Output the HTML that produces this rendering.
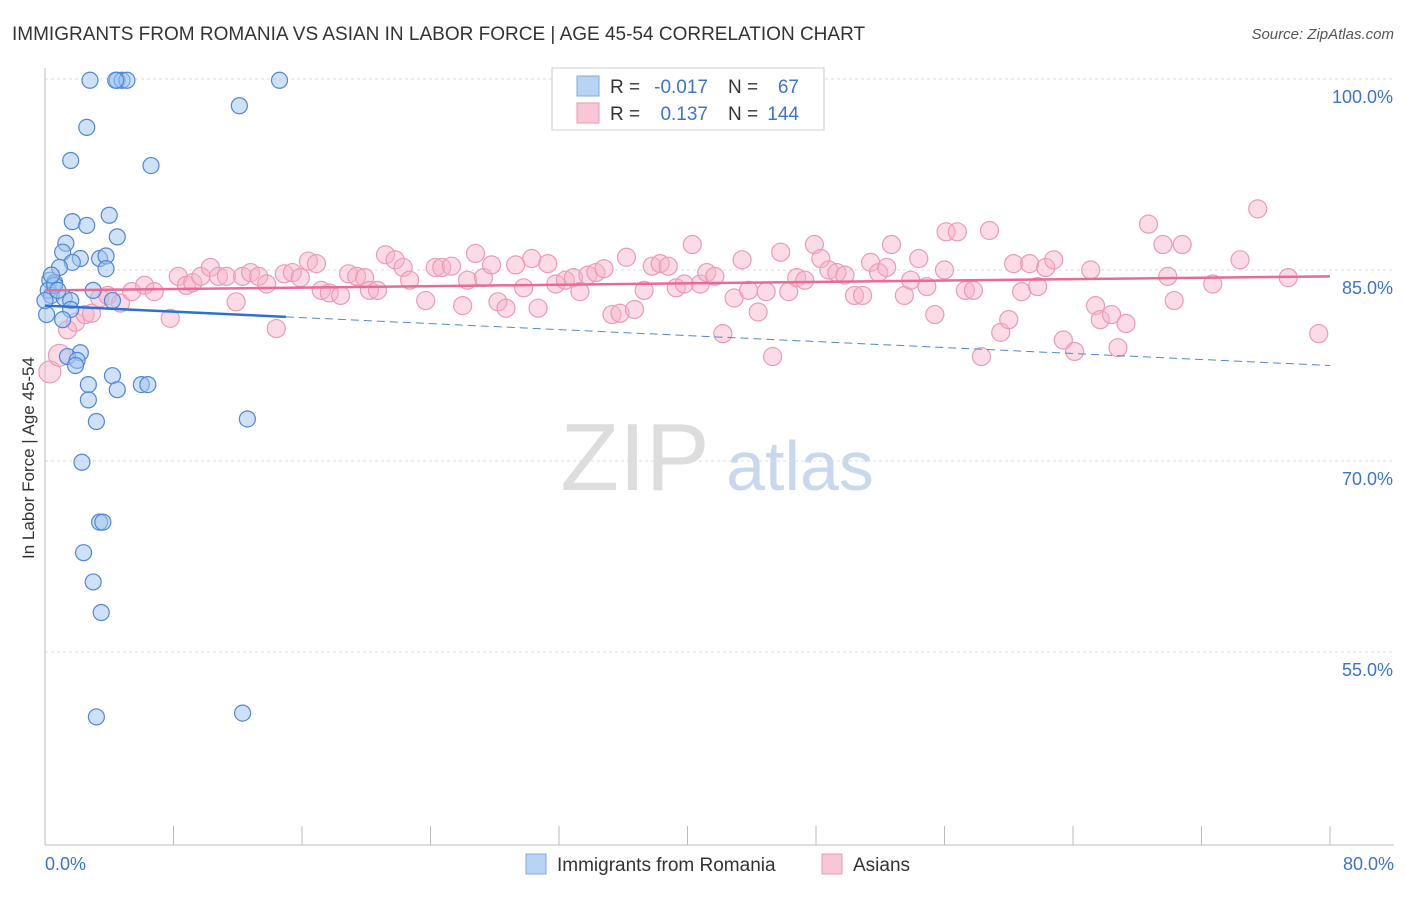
<!DOCTYPE html>
<html><head><meta charset="utf-8"><style>
body{margin:0;background:#fff;font-family:"Liberation Sans",sans-serif}
svg text{font-family:"Liberation Sans",sans-serif}
</style></head><body>
<svg id="chart" width="1406" height="892" xmlns="http://www.w3.org/2000/svg">
<text x="12" y="40" font-size="19" fill="#333">IMMIGRANTS FROM ROMANIA VS ASIAN IN LABOR FORCE | AGE 45-54 CORRELATION CHART</text>
<text x="1394" y="39" font-size="15" fill="#555" font-style="italic" text-anchor="end">Source: ZipAtlas.com</text>
<text transform="translate(34,458) rotate(-90)" font-size="17" fill="#333" text-anchor="middle">In Labor Force | Age 45-54</text>
<g><text x="635" y="490" font-size="96" fill="#ddd" font-family="Liberation Serif" text-anchor="middle">ZIP</text><text x="800" y="490" font-size="70" fill="#c8d8ef" text-anchor="middle">atlas</text></g>
<g id="grid"></g><g id="axes"></g><g id="pts"></g><g id="lines"></g>
<g>
<rect x="552" y="68" width="272" height="62" fill="#fff" stroke="#ccc"/>
<rect x="577" y="76" width="22" height="20" fill="#b9d3f5" stroke="#7fa8e0"/>
<rect x="577" y="103" width="22" height="20" fill="#f9c6d5" stroke="#ec9ab5"/>
<text x="610" y="93" font-size="19" fill="#333">R =</text>
<text x="708" y="93" font-size="19" fill="#3a73d4" text-anchor="end">-0.017</text>
<text x="728" y="93" font-size="19" fill="#333">N =</text>
<text x="799" y="93" font-size="19" fill="#3a73d4" text-anchor="end">67</text>
<text x="610" y="120" font-size="19" fill="#333">R =</text>
<text x="708" y="120" font-size="19" fill="#3a73d4" text-anchor="end">0.137</text>
<text x="728" y="120" font-size="19" fill="#333">N =</text>
<text x="799" y="120" font-size="19" fill="#3a73d4" text-anchor="end">144</text>
</g>
<g>
<rect x="526" y="854" width="20" height="20" fill="#b9d3f5" stroke="#7fa8e0"/>
<text x="557" y="871" font-size="19" fill="#333">Immigrants from Romania</text>
<rect x="822" y="854" width="20" height="20" fill="#f9c6d5" stroke="#ec9ab5"/>
<text x="853" y="871" font-size="19" fill="#333">Asians</text>
</g>
</svg>
<script>
const yTicks=[100,85,70,55];
const yTickLabels=["100.0%","85.0%","70.0%","55.0%"];
const xTicks=[0,8,16,24,32,40,48,56,64,72,80];
const blueX=[2.8,4.5,4.8,5.1,4.4,14.6,12.1,2.6,1.6,6.6,1.7,2.6,4.0,4.5,1.3,1.1,2.2,3.4,3.8,1.7,3.8,0.9,0.3,0.6,0.2,0.4,1.2,1.6,3.0,4.2,1.6,1.1,0.1,2.2,1.4,2.0,1.9,4.2,2.7,4.5,6.0,6.4,2.7,3.2,12.6,2.3,3.4,3.6,2.4,3.0,3.5,3.2,12.3,0.6,0.8,0,0.4];
const blueY=[99.9,99.9,99.9,99.9,99.9,99.9,97.9,96.2,93.6,93.2,88.8,88.5,89.3,87.6,87.1,86.4,85.9,85.9,86.1,85.6,85.1,85.2,84.2,84.0,83.4,83.0,82.8,82.6,83.4,82.6,81.9,81.1,81.5,78.5,78.2,77.9,77.5,76.7,76.0,75.6,76.0,76.0,74.8,73.1,73.3,69.9,65.2,65.2,62.8,60.5,58.1,49.9,50.2,83.8,83.4,82.6,84.6];
const pinkX=[0.3,0.9,1.4,1.9,2.5,2.9,3.4,3.9,4.7,5.4,6.2,6.8,7.8,8.3,8.8,9.2,9.7,10.3,10.8,11.3,11.9,12.3,12.8,13.3,13.8,14.4,14.9,15.4,15.9,16.4,16.9,17.2,17.7,18.4,18.9,19.4,19.9,20.2,20.7,21.2,21.8,22.3,22.7,23.7,24.3,24.7,25.3,26.0,26.3,26.8,27.3,27.8,28.2,28.7,29.3,29.8,30.3,30.7,31.3,31.8,32.4,32.9,33.3,33.8,34.3,34.8,35.3,35.8,36.2,36.7,37.3,37.8,38.3,38.8,39.3,39.8,40.3,40.8,41.2,41.7,42.2,42.9,43.4,43.8,44.4,44.9,45.3,45.8,46.3,46.8,47.3,47.9,48.3,48.8,49.3,49.8,50.4,50.9,51.4,51.9,52.4,52.7,53.5,53.9,54.4,54.9,55.4,56.0,56.1,56.8,57.3,57.8,58.3,58.8,59.5,60.0,60.3,60.8,61.3,61.8,62.3,62.8,63.4,64.1,65.1,65.4,65.7,66.4,66.8,67.3,68.7,69.6,69.9,70.3,70.8,72.7,74.4,75.5,77.4,79.3];
const pinkY=[77.0,78.3,80.3,80.9,81.5,81.6,82.8,83.0,82.4,83.3,83.8,83.3,81.2,84.5,83.8,84.0,84.5,85.2,84.5,84.5,82.5,84.5,84.8,84.5,83.9,80.4,84.7,84.8,84.4,85.7,85.5,83.4,83.2,83.0,84.7,84.5,84.4,83.4,83.4,86.2,85.8,85.2,84.2,82.6,85.2,85.2,85.3,82.2,84.2,86.3,84.4,85.4,82.5,82.0,85.4,83.6,85.9,82.0,85.5,83.9,84.2,84.4,83.3,84.6,84.8,85.1,81.5,81.6,86.0,81.9,83.4,85.3,85.5,85.3,83.6,83.9,87.0,83.9,84.8,84.5,80.0,82.8,85.8,83.4,81.7,83.3,78.2,86.4,83.3,84.4,84.2,87.0,85.9,85.0,84.8,84.6,83.0,83.0,85.6,84.8,85.2,87.0,83.0,84.2,85.9,83.7,81.5,85.0,88.0,88.0,83.4,83.4,78.2,88.1,80.1,81.1,85.5,83.3,85.5,83.7,85.2,85.8,79.5,78.6,85.0,82.2,81.1,81.5,78.9,80.8,88.6,87.0,84.5,82.6,87.0,83.9,85.8,89.8,84.4,80.0];
const blueTrend=[82.2,77.5];
const pinkTrend=[83.4,84.5];
const X=v=>45+v*16.0625, Y=v=>79+(100-v)*12.733;
const NS="http://www.w3.org/2000/svg";
function mk(tag,attrs,parent){const e=document.createElementNS(NS,tag);for(const k in attrs)e.setAttribute(k,attrs[k]);parent.appendChild(e);return e;}
const grid=document.getElementById('grid'),axes=document.getElementById('axes'),pts=document.getElementById('pts'),lines=document.getElementById('lines');
yTicks.forEach((t,i)=>{
 const l=mk('line',{x1:45,x2:1394,y1:Y(t),y2:Y(t),stroke:'#ddd','stroke-dasharray':'3,3'},grid);
 
 
 const tx=mk('text',{x:1393,y:Y(t)+24,'font-size':18,fill:'#3a73d4','text-anchor':'end'},axes);
 tx.textContent=yTickLabels[i];
 
 
});
const ax=mk('line',{x1:45,x2:1394,y1:845,y2:845,stroke:'#bbb'},axes);


const ay=mk('line',{x1:45,x2:45,y1:68,y2:845,stroke:'#bbb'},axes);


xTicks.forEach(t=>{const l=mk('line',{x1:X(t),x2:X(t),y1:826,y2:845,stroke:'#bbb'},axes);
 
 });
const x0=mk('text',{x:45,y:870,'font-size':18,fill:'#3a73d4'},axes);x0.textContent='0.0%';


const x1=mk('text',{x:1394,y:870,'font-size':18,fill:'#3a73d4','text-anchor':'end'},axes);x1.textContent='80.0%';


pinkX.forEach((v,i)=>{const c=mk('circle',{cx:X(v),cy:Y(pinkY[i]),r:i<2?11:9,fill:'rgba(246,178,200,0.45)',stroke:'#ec9ab5','stroke-width':1.2},pts);
 
 });
blueX.forEach((v,i)=>{const c=mk('circle',{cx:X(v),cy:Y(blueY[i]),r:8,fill:'rgba(160,196,240,0.5)',stroke:'#4f86d8','stroke-width':1.2},pts);
 
 });
const bAt=v=>blueTrend[0]+(blueTrend[1]-blueTrend[0])*v/80;
const bd=mk('line',{x1:X(15),y1:Y(bAt(15)),x2:X(80),y2:Y(bAt(80)),stroke:'#4f86d8','stroke-width':1,'stroke-dasharray':'8,5'},lines);


const bs=mk('line',{x1:X(0),y1:Y(bAt(0)),x2:X(15),y2:Y(bAt(15)),stroke:'#2e6fd6','stroke-width':2.5},lines);


const ps=mk('line',{x1:X(0),y1:Y(pinkTrend[0]),x2:X(80),y2:Y(pinkTrend[1]),stroke:'#e86a95','stroke-width':2.5},lines);


</script>
</body></html>
